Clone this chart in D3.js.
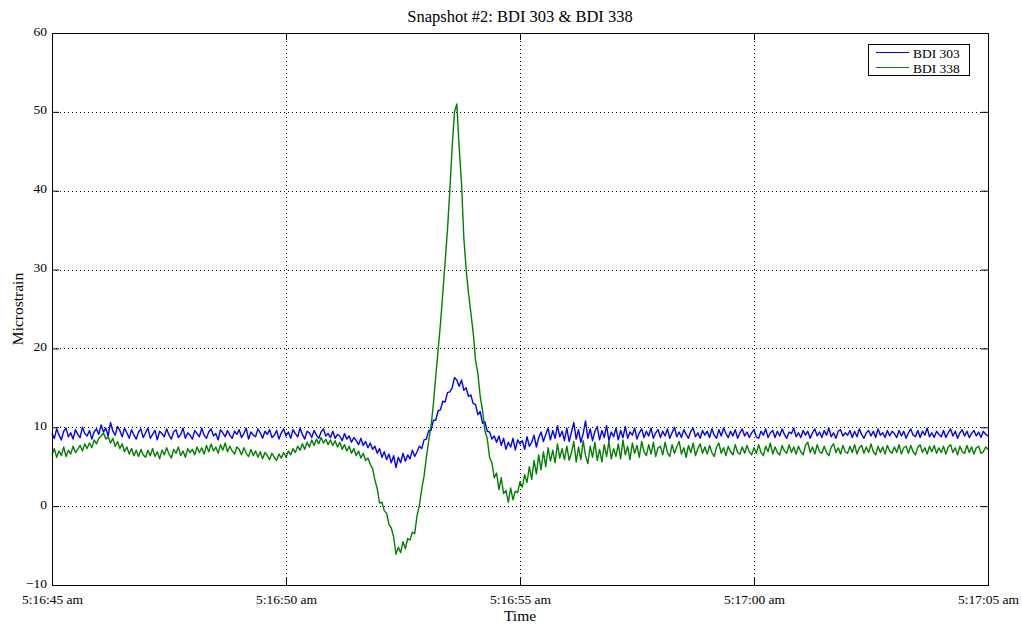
<!DOCTYPE html>
<html>
<head>
<meta charset="utf-8">
<script src="https://cdn.jsdelivr.net/npm/d3@7"></script>
<style>
  html, body { margin: 0; padding: 0; background: #fff; }
  svg text { font-family: "Liberation Serif", "DejaVu Serif", serif; fill: #000; }
</style>
</head>
<body>
<div id="chart"></div>
<script>
'use strict';

// snapshot window, one sample every 0.05 s
var startTime = new Date(2000, 0, 1, 5, 16, 45);
var endTime = new Date(2000, 0, 1, 5, 17, 5);
var sampleStep = 0.05;

var seriesNames = ['BDI 303', 'BDI 338'];
var seriesColors = ['#0000ff', '#007f00'];

var yTicks = [-10, 0, 10, 20, 30, 40, 50, 60];
var xTickSeconds = [0, 5, 10, 15, 20];
var xTickLabels = ['5:16:45 am', '5:16:50 am', '5:16:55 am', '5:17:00 am', '5:17:05 am'];

var bdi303 = [
  9.2, 8.6, 9.8, 9.0, 8.4, 9.5, 9.9, 8.8, 9.3, 8.5, 9.7, 9.1, 8.7, 10.0, 9.2, 8.9, 9.6, 8.5, 9.4, 9.8,
  9.1, 10.3, 9.4, 9.9, 8.9, 10.6, 9.5, 9.0, 10.1, 9.6, 8.8, 9.9, 9.3, 8.6, 9.7, 9.0, 8.5, 9.4, 9.8, 8.7,
  9.3, 9.9, 8.6, 9.1, 9.6, 8.4, 9.5, 9.2, 8.8, 9.8, 9.0, 8.5, 9.4, 9.7, 8.7, 9.1, 9.9, 8.6, 9.3, 9.0,
  8.5, 9.6, 9.2, 8.8, 9.9, 9.0, 8.6, 9.4, 9.8, 8.9, 9.2, 8.4, 9.7, 9.3, 8.8, 9.6, 9.0, 8.6, 9.5, 9.1,
  9.7, 8.7, 9.2, 9.9, 8.5, 9.4, 9.0, 8.8, 9.8, 9.3, 8.6, 9.5, 9.1, 9.7, 8.7, 9.0, 9.6, 8.5, 9.3, 9.8,
  8.9, 9.4, 8.6, 9.7, 9.2, 8.8, 9.9, 9.1, 8.5, 9.5, 9.3, 8.7, 9.6, 9.0, 8.6, 9.4, 9.8, 8.9, 9.2, 8.7,
  9.5, 8.6, 9.1, 8.9, 8.3, 9.2, 8.5, 8.9, 8.1, 8.7, 8.3, 7.8, 8.6, 7.7, 8.2, 7.4, 8.0, 7.2, 7.6, 6.7,
  7.3, 6.2, 6.9, 5.9, 6.6, 5.5, 6.4, 4.9, 6.2, 5.5, 6.7, 5.7, 6.5, 6.0, 7.1, 6.3, 6.9, 7.6, 7.3, 8.4,
  8.5, 9.6, 9.6, 10.9, 10.9, 12.1, 12.2, 13.3, 13.2, 14.4, 14.5, 15.0, 16.3, 16.0, 15.2, 16.0, 14.7, 15.0, 13.9, 14.1,
  13.0, 12.9, 11.6, 12.0, 10.5, 10.7, 9.5, 9.4, 8.5, 8.9, 8.1, 8.9, 7.7, 8.6, 7.2, 8.1, 7.5, 8.6, 7.1, 8.4,
  7.9, 8.3, 7.2, 8.8, 7.6, 8.1, 9.0, 7.5, 8.7, 9.4, 8.2, 9.1, 9.9, 8.4, 9.6, 8.6, 10.2, 8.8, 9.5, 8.3,
  9.9, 8.2, 9.4, 10.6, 8.5, 9.7, 8.1, 9.2, 10.8, 8.6, 9.8, 8.3, 9.5, 10.1, 8.4, 9.6, 8.7, 10.2, 8.3, 9.4,
  8.8, 9.9, 8.4, 9.6, 8.7, 10.1, 8.6, 9.4, 9.0, 9.9, 8.5, 9.3, 9.8, 8.7, 9.5, 8.9, 9.9, 8.6, 9.3, 9.7,
  8.7, 9.5, 8.9, 9.8, 8.6, 9.3, 10.0, 8.8, 9.4, 8.7, 9.7, 9.1, 8.6, 9.5, 9.9, 8.8, 9.3, 8.6, 9.6, 9.0,
  9.5, 8.7, 9.8, 9.0, 8.6, 9.7, 8.9, 9.9, 9.2, 8.7, 9.5, 8.9, 9.7, 8.6, 9.3, 9.8, 8.9, 9.4, 8.7, 9.3,
  9.7, 8.8, 8.6, 9.5, 9.0, 9.8, 8.7, 9.3, 9.6, 8.7, 9.5, 8.9, 9.8, 9.1, 8.6, 9.4, 9.2, 9.9, 8.8, 9.3,
  8.7, 9.6, 9.0, 9.5, 8.6, 9.3, 9.8, 8.9, 9.4, 8.7, 9.6, 9.0, 9.9, 8.8, 9.3, 8.6, 9.5, 9.7, 8.9, 9.3,
  9.0, 9.6, 8.7, 9.5, 8.8, 9.8, 9.1, 8.6, 9.3, 9.6, 8.9, 9.5, 8.7, 9.8, 9.0, 9.3, 8.7, 9.6, 8.9, 9.5,
  9.2, 8.7, 9.6, 8.9, 9.5, 8.6, 9.3, 9.8, 9.0, 8.8, 9.6, 8.7, 9.5, 9.0, 9.9, 8.8, 9.3, 8.7, 9.5, 9.1,
  8.8, 9.6, 8.7, 9.3, 9.8, 8.9, 9.5, 8.6, 9.3, 9.7, 8.9, 9.5, 8.7, 9.2, 9.6, 8.9, 9.4, 8.7, 9.5, 9.1,
  8.9
];

var bdi338 = [
  6.5, 7.3, 6.2, 7.0, 6.4, 7.5, 6.3, 7.1, 6.6, 7.6, 6.8, 7.2, 7.7, 7.0, 7.9, 7.3, 8.0, 7.4, 8.4, 7.9,
  8.6, 8.9, 9.3, 8.5, 8.8, 8.0, 8.6, 7.6, 8.2, 7.3, 7.9, 6.9, 7.5, 6.6, 7.3, 6.4, 7.1, 6.3, 7.2, 6.5,
  6.2, 7.1, 6.4, 7.3, 6.3, 6.9, 6.0, 7.1, 6.5, 7.4, 6.6, 6.1, 7.2, 6.7, 7.5, 6.4, 7.0, 6.2, 7.3, 6.8,
  7.2, 6.5, 7.5, 6.8, 7.4, 6.6, 7.7, 6.9, 7.9, 7.0, 7.5, 6.7, 7.8, 7.1, 8.0, 6.9, 7.6, 7.0, 6.6, 7.5,
  7.2, 6.5, 7.4, 6.7, 6.3, 7.2, 6.4, 7.0, 6.2, 6.9, 6.0, 6.8, 6.4, 5.9, 6.7, 6.2, 5.8, 6.6, 6.1, 6.8,
  6.2, 7.0, 6.5, 7.3, 6.8, 7.6, 7.1, 7.9, 7.2, 8.1, 7.5, 8.4, 7.7, 8.5, 7.9, 8.7, 8.0, 8.5, 7.8, 8.4,
  7.7, 8.3, 7.5, 8.1, 7.2, 7.8, 7.0, 7.6, 6.7, 7.3, 6.4, 7.0, 6.1, 6.7, 5.8, 6.1, 5.3, 4.8, 3.3, 2.2,
  0.4, 0.5, -0.6, -0.9, -2.3, -2.8, -3.9, -6.1, -5.2, -5.9, -4.5, -5.4, -4.1, -4.3, -3.3, -3.5, -1.2, 0.1, 2.2, 3.8,
  6.2, 8.3, 10.2, 13.0, 16.5, 19.8, 23.1, 27.0, 31.0, 35.0, 40.0, 45.5, 50.0, 51.0, 45.5, 41.0, 34.0, 30.0, 27.0, 24.5,
  22.0, 18.5, 16.8, 13.9, 12.1, 9.6, 8.6, 6.2, 5.5, 3.6, 4.2, 2.1, 3.6, 1.6, 2.0, 0.5, 2.3, 0.8, 1.9, 1.7,
  3.1, 2.4, 4.0, 3.0, 5.0, 3.4, 5.8, 4.1, 6.5, 4.6, 6.9, 5.0, 7.4, 5.7, 7.1, 5.5, 7.9, 6.1, 7.3, 5.9,
  7.6, 5.8, 6.8, 8.2, 5.6, 7.5, 5.9, 8.3, 6.4, 5.4, 7.6, 6.2, 8.1, 5.8, 7.2, 5.6, 7.8, 6.3, 8.2, 6.0,
  7.3, 6.3, 7.9, 6.0, 8.4, 6.5, 7.6, 5.9, 8.0, 6.7, 7.7, 6.2, 8.2, 6.9, 6.4, 7.8, 6.6, 8.1, 6.3, 7.4,
  7.6, 6.5, 8.1, 6.8, 6.3, 7.8, 6.7, 7.5, 8.2, 6.6, 7.4, 6.2, 7.7, 6.8, 8.0, 6.4, 7.3, 7.9, 6.7, 7.5,
  6.6, 7.7, 6.8, 6.3, 7.5, 8.0, 6.7, 7.4, 6.4, 7.6, 6.9, 6.5, 7.8, 6.8, 6.6, 7.5, 6.7, 7.7, 6.9, 6.5,
  7.4, 6.7, 7.8, 6.8, 6.4, 7.6, 6.9, 8.0, 6.6, 7.5, 6.8, 6.5, 7.7, 7.0, 6.7, 7.8, 6.8, 7.5, 6.6, 7.6,
  6.9, 6.5, 7.7, 8.1, 6.8, 7.5, 6.6, 7.8, 6.9, 6.7, 7.6, 6.8, 6.4, 7.5, 7.9, 6.8, 7.4, 6.6, 7.7, 6.9,
  6.7, 7.6, 6.8, 7.8, 6.6, 7.4, 7.7, 6.7, 7.5, 6.8, 7.9, 6.9, 6.5, 7.6, 6.8, 7.5, 6.6, 7.7, 7.0, 6.7,
  7.5, 6.8, 7.8, 6.6, 7.4, 7.6, 6.7, 7.7, 6.9, 6.5, 7.5, 7.8, 6.8, 7.4, 6.6, 7.6, 6.9, 7.7, 6.7, 7.4,
  6.8, 7.6, 6.6, 7.5, 7.8, 6.8, 7.4, 6.5, 7.6, 6.9, 6.7, 7.7, 6.8, 7.5, 6.6, 7.4, 7.6, 6.7, 6.9, 7.5,
  7.2
];

var width = 1022;
var height = 626;
var margin = {top: 33, right: 34, bottom: 41, left: 52};
var plotW = width - margin.left - margin.right;
var plotH = height - margin.top - margin.bottom;

var svg = d3.select('#chart')
  .append('svg')
    .attr('width', width)
    .attr('height', height);

svg.append('rect')
  .attr('width', width)
  .attr('height', height)
  .attr('fill', '#fff');

var x = d3.scaleTime()
  .domain([startTime, endTime])
  .range([0, plotW]);

var y = d3.scaleLinear()
  .domain([-10, 60])
  .range([plotH, 0]);

var secToDate = function(s){
  return new Date(startTime.getTime() + s * 1000);
};

var g = svg.append('g')
  .attr('transform', 'translate(' + margin.left + ',' + margin.top + ')');

// dotted grid
g.append('g').selectAll('line')
  .data(yTicks.slice(1, -1))
  .enter().append('line')
    .attr('x1', 0).attr('x2', plotW)
    .attr('y1', function(d){ return Math.round(y(d)) + 0.5; })
    .attr('y2', function(d){ return Math.round(y(d)) + 0.5; })
    .attr('stroke', '#000')
    .attr('stroke-width', 1)
    .attr('stroke-dasharray', '1,3');

g.append('g').selectAll('line')
  .data(xTickSeconds.slice(1, -1))
  .enter().append('line')
    .attr('x1', function(d){ return Math.round(x(secToDate(d))) + 0.5; })
    .attr('x2', function(d){ return Math.round(x(secToDate(d))) + 0.5; })
    .attr('y1', 0).attr('y2', plotH)
    .attr('stroke', '#000')
    .attr('stroke-width', 1)
    .attr('stroke-dasharray', '1,3');

// data lines
var allSeries = [bdi303, bdi338];

var line = d3.line()
  .x(function(d, i){ return x(secToDate(i * sampleStep)); })
  .y(function(d){ return y(d); });

g.append('g').selectAll('path')
  .data(allSeries)
  .enter().append('path')
    .attr('d', function(d){ return line(d); })
    .attr('fill', 'none')
    .attr('stroke', function(d, i){ return seriesColors[i]; })
    .attr('stroke-width', 1.4)
    .attr('stroke-linejoin', 'round');

// axes box with inward ticks on all four sides
var tickLen = 7;
var xTickDates = xTickSeconds.map(secToDate);

var axisStyle = function(sel){
  sel.select('.domain').remove();
  sel.selectAll('.tick line').attr('stroke', '#000');
  sel.selectAll('.tick text')
    .style('font-family', '"Liberation Serif", serif')
    .style('font-size', '13.5px')
    .attr('fill', '#000');
};

g.append('g')
  .attr('transform', 'translate(0,' + plotH + ')')
  .call(d3.axisBottom(x)
    .tickValues(xTickDates)
    .tickSize(-tickLen)
    .tickPadding(9)
    .tickFormat(function(d, i){ return xTickLabels[i]; }))
  .call(axisStyle);

g.append('g')
  .call(d3.axisTop(x).tickValues(xTickDates).tickSize(-tickLen).tickFormat(''))
  .call(axisStyle);

g.append('g')
  .call(d3.axisLeft(y)
    .tickValues(yTicks)
    .tickSize(-tickLen)
    .tickPadding(5))
  .call(axisStyle)
  .selectAll('.tick text')
    .attr('dy', '0.15em');

g.append('g')
  .attr('transform', 'translate(' + plotW + ',0)')
  .call(d3.axisRight(y).tickValues(yTicks).tickSize(-tickLen).tickFormat(''))
  .call(axisStyle);

g.append('rect')
  .attr('x', 0.5).attr('y', 0.5)
  .attr('width', plotW).attr('height', plotH)
  .attr('fill', 'none')
  .attr('stroke', '#000')
  .attr('stroke-width', 1);

// titles
svg.append('text')
  .attr('x', margin.left + plotW / 2)
  .attr('y', 22)
  .attr('text-anchor', 'middle')
  .style('font-size', '16.5px')
  .text('Snapshot #2: BDI 303 & BDI 338');

svg.append('text')
  .attr('x', margin.left + plotW / 2)
  .attr('y', 621)
  .attr('text-anchor', 'middle')
  .style('font-size', '15.5px')
  .text('Time');

svg.append('text')
  .attr('transform', 'translate(23,' + (margin.top + plotH / 2) + ') rotate(-90)')
  .attr('text-anchor', 'middle')
  .style('font-size', '15.5px')
  .text('Microstrain');

// legend
var legend = svg.append('g')
  .attr('transform', 'translate(868,44)');

legend.append('rect')
  .attr('x', 0.5).attr('y', 0.5)
  .attr('width', 101).attr('height', 31)
  .attr('fill', '#fff')
  .attr('stroke', '#000');

var item = legend.selectAll('g.item')
  .data(seriesNames)
  .enter().append('g')
    .attr('class', 'item')
    .attr('transform', function(d, i){ return 'translate(0,' + (8.5 + i * 15) + ')'; });

item.append('line')
  .attr('x1', 8).attr('x2', 41)
  .attr('stroke', function(d, i){ return seriesColors[i]; })
  .attr('stroke-width', 1);

item.append('text')
  .attr('x', 45)
  .attr('y', 5)
  .style('font-size', '13.5px')
  .text(function(d){ return d; });
</script>
</body>
</html>
